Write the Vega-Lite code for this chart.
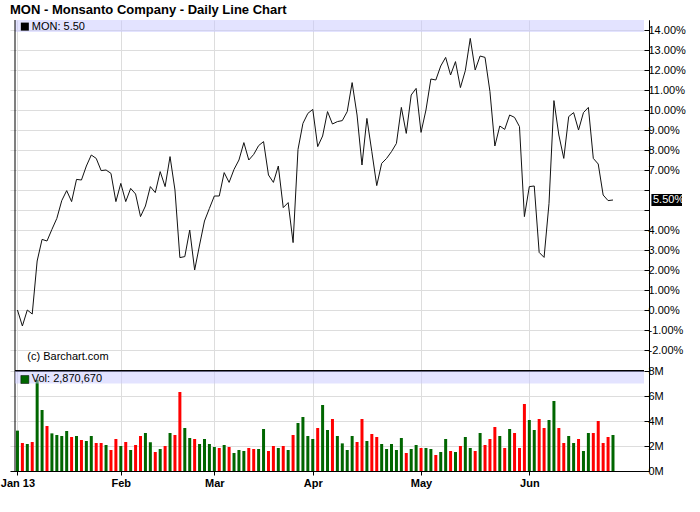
{
  "$schema": "https://vega.github.io/schema/vega-lite/v6.json",
  "width": 639,
  "height": 451,
  "autosize": {"type": "none"},
  "padding": {"left": 10, "top": 20, "right": 51, "bottom": 41},
  "background": "white",
  "title": {"text": "MON - Monsanto Company - Daily Line Chart", "anchor": "start", "frame": "group", "fontSize": 13, "font": "Liberation Sans", "fontWeight": "bold", "color": "#000000", "offset": 3},
  "config": {"view": {"stroke": null}},
  "data": {"values": [
    {"i":0,"pct":0.0,"vol":3.23,"dir":"up"},
    {"i":1,"pct":-0.8,"vol":2.24,"dir":"down"},
    {"i":2,"pct":0.0,"vol":2.16,"dir":"up"},
    {"i":3,"pct":-0.2,"vol":2.32,"dir":"down"},
    {"i":4,"pct":2.45,"vol":7.3,"dir":"up"},
    {"i":5,"pct":3.53,"vol":4.88,"dir":"up"},
    {"i":6,"pct":3.45,"vol":3.6,"dir":"down"},
    {"i":7,"pct":4.03,"vol":3.01,"dir":"up"},
    {"i":8,"pct":4.58,"vol":2.88,"dir":"up"},
    {"i":9,"pct":5.47,"vol":2.8,"dir":"up"},
    {"i":10,"pct":5.97,"vol":3.2,"dir":"up"},
    {"i":11,"pct":5.42,"vol":2.72,"dir":"down"},
    {"i":12,"pct":6.53,"vol":2.8,"dir":"up"},
    {"i":13,"pct":6.5,"vol":2.48,"dir":"down"},
    {"i":14,"pct":7.2,"vol":2.4,"dir":"up"},
    {"i":15,"pct":7.75,"vol":2.8,"dir":"up"},
    {"i":16,"pct":7.58,"vol":2.24,"dir":"down"},
    {"i":17,"pct":6.97,"vol":2.24,"dir":"down"},
    {"i":18,"pct":7.0,"vol":2.08,"dir":"up"},
    {"i":19,"pct":6.83,"vol":1.68,"dir":"down"},
    {"i":20,"pct":5.42,"vol":2.56,"dir":"down"},
    {"i":21,"pct":6.33,"vol":2.0,"dir":"up"},
    {"i":22,"pct":5.42,"vol":2.32,"dir":"down"},
    {"i":23,"pct":6.08,"vol":1.68,"dir":"up"},
    {"i":24,"pct":5.8,"vol":2.08,"dir":"down"},
    {"i":25,"pct":4.67,"vol":2.8,"dir":"down"},
    {"i":26,"pct":5.2,"vol":3.04,"dir":"up"},
    {"i":27,"pct":6.17,"vol":2.3,"dir":"up"},
    {"i":28,"pct":5.87,"vol":1.52,"dir":"down"},
    {"i":29,"pct":6.92,"vol":1.76,"dir":"up"},
    {"i":30,"pct":6.17,"vol":2.0,"dir":"down"},
    {"i":31,"pct":7.67,"vol":3.04,"dir":"up"},
    {"i":32,"pct":6.0,"vol":2.88,"dir":"down"},
    {"i":33,"pct":2.62,"vol":6.32,"dir":"down"},
    {"i":34,"pct":2.67,"vol":3.44,"dir":"up"},
    {"i":35,"pct":4.0,"vol":2.64,"dir":"up"},
    {"i":36,"pct":2.0,"vol":2.56,"dir":"down"},
    {"i":37,"pct":3.25,"vol":2.16,"dir":"up"},
    {"i":38,"pct":4.45,"vol":2.56,"dir":"up"},
    {"i":39,"pct":5.08,"vol":2.16,"dir":"up"},
    {"i":40,"pct":5.7,"vol":1.92,"dir":"up"},
    {"i":41,"pct":5.7,"vol":1.84,"dir":"down"},
    {"i":42,"pct":6.87,"vol":2.08,"dir":"up"},
    {"i":43,"pct":6.38,"vol":1.92,"dir":"down"},
    {"i":44,"pct":7.03,"vol":1.44,"dir":"up"},
    {"i":45,"pct":7.5,"vol":1.68,"dir":"up"},
    {"i":46,"pct":8.37,"vol":1.6,"dir":"up"},
    {"i":47,"pct":7.5,"vol":1.84,"dir":"down"},
    {"i":48,"pct":7.78,"vol":1.76,"dir":"down"},
    {"i":49,"pct":8.22,"vol":1.76,"dir":"up"},
    {"i":50,"pct":8.42,"vol":3.36,"dir":"up"},
    {"i":51,"pct":6.75,"vol":1.6,"dir":"down"},
    {"i":52,"pct":6.38,"vol":2.0,"dir":"down"},
    {"i":53,"pct":7.2,"vol":1.84,"dir":"up"},
    {"i":54,"pct":5.12,"vol":2.0,"dir":"down"},
    {"i":55,"pct":5.37,"vol":1.68,"dir":"up"},
    {"i":56,"pct":3.37,"vol":2.88,"dir":"down"},
    {"i":57,"pct":8.03,"vol":3.84,"dir":"up"},
    {"i":58,"pct":9.33,"vol":4.32,"dir":"up"},
    {"i":59,"pct":9.83,"vol":2.8,"dir":"up"},
    {"i":60,"pct":10.03,"vol":2.56,"dir":"up"},
    {"i":61,"pct":8.17,"vol":3.44,"dir":"down"},
    {"i":62,"pct":8.7,"vol":5.28,"dir":"up"},
    {"i":63,"pct":9.92,"vol":3.28,"dir":"up"},
    {"i":64,"pct":9.3,"vol":4.16,"dir":"down"},
    {"i":65,"pct":9.42,"vol":2.8,"dir":"up"},
    {"i":66,"pct":9.47,"vol":2.21,"dir":"up"},
    {"i":67,"pct":9.92,"vol":1.68,"dir":"up"},
    {"i":68,"pct":11.37,"vol":2.8,"dir":"up"},
    {"i":69,"pct":9.75,"vol":2.32,"dir":"down"},
    {"i":70,"pct":7.25,"vol":4.16,"dir":"down"},
    {"i":71,"pct":9.58,"vol":2.4,"dir":"up"},
    {"i":72,"pct":7.92,"vol":2.96,"dir":"down"},
    {"i":73,"pct":6.22,"vol":2.72,"dir":"down"},
    {"i":74,"pct":7.33,"vol":2.16,"dir":"up"},
    {"i":75,"pct":7.58,"vol":1.76,"dir":"up"},
    {"i":76,"pct":7.92,"vol":2.16,"dir":"up"},
    {"i":77,"pct":8.33,"vol":1.68,"dir":"up"},
    {"i":78,"pct":10.13,"vol":2.64,"dir":"up"},
    {"i":79,"pct":8.83,"vol":1.44,"dir":"down"},
    {"i":80,"pct":10.75,"vol":1.76,"dir":"up"},
    {"i":81,"pct":11.08,"vol":2.08,"dir":"up"},
    {"i":82,"pct":8.88,"vol":1.84,"dir":"down"},
    {"i":83,"pct":10.0,"vol":1.84,"dir":"up"},
    {"i":84,"pct":11.55,"vol":1.76,"dir":"up"},
    {"i":85,"pct":11.5,"vol":1.28,"dir":"down"},
    {"i":86,"pct":12.2,"vol":1.52,"dir":"up"},
    {"i":87,"pct":12.63,"vol":2.56,"dir":"up"},
    {"i":88,"pct":11.75,"vol":1.6,"dir":"down"},
    {"i":89,"pct":12.42,"vol":1.52,"dir":"up"},
    {"i":90,"pct":11.12,"vol":2.0,"dir":"down"},
    {"i":91,"pct":11.97,"vol":2.72,"dir":"up"},
    {"i":92,"pct":13.58,"vol":1.84,"dir":"up"},
    {"i":93,"pct":12.0,"vol":1.6,"dir":"down"},
    {"i":94,"pct":12.7,"vol":3.04,"dir":"up"},
    {"i":95,"pct":12.63,"vol":2.08,"dir":"down"},
    {"i":96,"pct":10.92,"vol":2.56,"dir":"down"},
    {"i":97,"pct":8.2,"vol":3.52,"dir":"down"},
    {"i":98,"pct":9.2,"vol":2.8,"dir":"up"},
    {"i":99,"pct":9.03,"vol":1.84,"dir":"down"},
    {"i":100,"pct":9.75,"vol":3.36,"dir":"up"},
    {"i":101,"pct":9.63,"vol":3.04,"dir":"down"},
    {"i":102,"pct":9.17,"vol":1.84,"dir":"down"},
    {"i":103,"pct":4.67,"vol":5.36,"dir":"down"},
    {"i":104,"pct":6.17,"vol":4.08,"dir":"up"},
    {"i":105,"pct":6.2,"vol":3.28,"dir":"up"},
    {"i":106,"pct":2.88,"vol":4.16,"dir":"down"},
    {"i":107,"pct":2.63,"vol":3.44,"dir":"down"},
    {"i":108,"pct":5.33,"vol":4.08,"dir":"up"},
    {"i":109,"pct":10.47,"vol":5.6,"dir":"up"},
    {"i":110,"pct":8.75,"vol":3.44,"dir":"down"},
    {"i":111,"pct":7.58,"vol":2.24,"dir":"down"},
    {"i":112,"pct":9.67,"vol":2.8,"dir":"up"},
    {"i":113,"pct":9.87,"vol":2.24,"dir":"up"},
    {"i":114,"pct":9.0,"vol":2.56,"dir":"down"},
    {"i":115,"pct":9.87,"vol":1.6,"dir":"up"},
    {"i":116,"pct":10.13,"vol":3.04,"dir":"up"},
    {"i":117,"pct":7.58,"vol":3.04,"dir":"down"},
    {"i":118,"pct":7.3,"vol":4.0,"dir":"down"},
    {"i":119,"pct":5.75,"vol":2.24,"dir":"down"},
    {"i":120,"pct":5.47,"vol":2.72,"dir":"down"},
    {"i":121,"pct":5.5,"vol":2.88,"dir":"up"}
  ]},
  "encoding": {
    "x": {"field": "i", "type": "quantitative", "title": null,
      "scale": {"domain": [-0.5, 127.3], "nice": false, "zero": false},
      "axis": {"orient": "bottom", "values": [0, 21, 40, 60, 82, 104], "tickCount": 20, "labelFlush": false,
        "labelExpr": "['Jan 13','Feb','Mar','Apr','May','Jun'][indexof([0,21,40,60,82,104], datum.value)]",
        "labelFont": "Liberation Sans", "labelFontSize": 11, "labelFontWeight": "bold", "labelColor": "#000000",
        "labelPadding": 2, "tickSize": 4, "tickColor": "#000000", "domainColor": "#000000", "domainWidth": 1,
        "grid": true, "gridColor": "#dddddd", "gridWidth": 1, "labelOverlap": false}}
  },
  "layer": [
    {
      "layer": [
        {"mark": {"type": "line", "color": "#111111", "strokeWidth": 1, "interpolate": "linear"},
         "encoding": {"y": {"field": "pct", "type": "quantitative", "title": null,
           "scale": {"domain": [-8.05, 14.5], "nice": false, "zero": false},
           "axis": {"orient": "right", "values": [-2,-1,0,1,2,3,4,5,6,7,8,9,10,11,12,13,14], "tickCount": 30, "labelFlush": false,
             "labelExpr": "datum.value == 5 || datum.value == 6 ? '' : (datum.value < 0 ? '-' : '') + format(abs(datum.value), '.2f') + '%'",
             "labelFont": "Liberation Sans", "labelFontSize": 11, "labelColor": "#000000", "labelPadding": 4,
             "tickSize": -5, "tickColor": "#000000", "domainColor": "#000000", "domainWidth": 1,
             "grid": true, "gridColor": "#dddddd", "gridWidth": 1, "labelOverlap": false}}}},
        {"transform": [{"filter": "datum.i == 0"}],
         "mark": {"type": "rect", "fill": "#c8c8ff", "opacity": 0.5},
         "encoding": {"x": {"datum": -0.5, "type": "quantitative"}, "x2": {"datum": 127.3},
           "y": {"datum": 13.9, "type": "quantitative", "axis": {"orient": "right"}}, "y2": {"datum": 14.5}}},
        {"transform": [{"filter": "datum.i == 0"}],
         "mark": {"type": "point", "shape": "square", "filled": true, "color": "#000000", "size": 64, "opacity": 1},
         "encoding": {"x": {"datum": 1.5, "type": "quantitative"}, "y": {"datum": 14.17, "type": "quantitative", "axis": {"orient": "right"}}}},
        {"transform": [{"filter": "datum.i == 0"}],
         "mark": {"type": "text", "text": "MON: 5.50", "align": "left", "baseline": "middle", "font": "Liberation Sans", "fontSize": 11, "color": "#000000"},
         "encoding": {"x": {"datum": 2.9, "type": "quantitative"}, "y": {"datum": 14.17, "type": "quantitative", "axis": {"orient": "right"}}}},
        {"transform": [{"filter": "datum.i == 0"}],
         "mark": {"type": "text", "text": "(c) Barchart.com", "align": "left", "baseline": "middle", "font": "Liberation Sans", "fontSize": 11, "color": "#000000"},
         "encoding": {"x": {"datum": 2.0, "type": "quantitative"}, "y": {"datum": -2.35, "type": "quantitative", "axis": {"orient": "right"}}}},
        {"transform": [{"filter": "datum.i == 0"}],
         "mark": {"type": "rule", "color": "#000000", "strokeWidth": 2},
         "encoding": {"x": {"datum": -0.5, "type": "quantitative"}, "x2": {"datum": 127.3},
           "y": {"datum": -3.05, "type": "quantitative", "axis": {"orient": "right"}}}},
        {"transform": [{"filter": "datum.i == 0"}],
         "mark": {"type": "rule", "color": "#000000", "strokeWidth": 1},
         "encoding": {"x": {"datum": -0.5, "type": "quantitative"},
           "y": {"datum": 14.5, "type": "quantitative", "axis": {"orient": "right"}}, "y2": {"datum": -8.05}}},
        {"transform": [{"filter": "datum.i == 121"}],
         "mark": {"type": "point", "shape": "M0.4,-1H5.5V1H0.4Z", "filled": true, "color": "#000000", "size": 144, "opacity": 1},
         "encoding": {"x": {"value": "width"}, "y": {"field": "pct", "type": "quantitative", "axis": {"orient": "right"}}}},
        {"transform": [{"filter": "datum.i == 121"}],
         "mark": {"type": "text", "text": "5.50%", "align": "left", "baseline": "middle", "dx": 4, "font": "Liberation Sans", "fontSize": 11, "color": "#ffffff"},
         "encoding": {"x": {"value": "width"}, "y": {"field": "pct", "type": "quantitative", "axis": {"orient": "right"}}}}
      ]
    },
    {
      "layer": [
        {"mark": {"type": "bar", "size": 3},
         "encoding": {"y": {"field": "vol", "type": "quantitative", "title": null,
           "scale": {"domain": [0, 36.08], "nice": false, "zero": true},
           "axis": {"orient": "right", "values": [0, 2, 4, 6, 8], "tickCount": 30, "labelFlush": false,
             "labelExpr": "datum.value + 'M'",
             "labelFont": "Liberation Sans", "labelFontSize": 11, "labelColor": "#000000", "labelPadding": 4,
             "tickSize": -5, "tickColor": "#000000", "domainColor": "#000000", "domainWidth": 1,
             "grid": true, "gridColor": "#dddddd", "gridWidth": 1, "labelOverlap": false}},
           "color": {"field": "dir", "type": "nominal", "scale": {"domain": ["up", "down"], "range": ["#006600", "#ff0000"]}, "legend": null}}},
        {"transform": [{"filter": "datum.i == 0"}],
         "mark": {"type": "rect", "fill": "#c8c8ff", "opacity": 0.5},
         "encoding": {"x": {"datum": -0.5, "type": "quantitative"}, "x2": {"datum": 127.3},
           "y": {"datum": 7.0, "type": "quantitative", "axis": {"orient": "right"}}, "y2": {"datum": 8.0}}},
        {"transform": [{"filter": "datum.i == 0"}],
         "mark": {"type": "point", "shape": "square", "filled": true, "color": "#006600", "size": 64, "opacity": 1, "stroke": "#000000", "strokeWidth": 0.5},
         "encoding": {"x": {"datum": 1.5, "type": "quantitative"}, "y": {"datum": 7.32, "type": "quantitative", "axis": {"orient": "right"}}}},
        {"transform": [{"filter": "datum.i == 0"}],
         "mark": {"type": "text", "text": "Vol: 2,870,670", "align": "left", "baseline": "middle", "font": "Liberation Sans", "fontSize": 11, "color": "#000000"},
         "encoding": {"x": {"datum": 2.9, "type": "quantitative"}, "y": {"datum": 7.36, "type": "quantitative", "axis": {"orient": "right"}}}}
      ]
    }
  ],
  "resolve": {"scale": {"y": "independent"}, "axis": {"y": "independent"}}
}
